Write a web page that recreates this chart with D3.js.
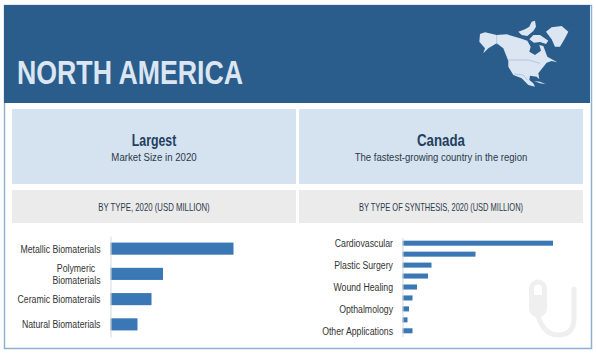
<!DOCTYPE html>
<html>
<head>
<meta charset="utf-8">
<script src="https://cdn.jsdelivr.net/npm/d3@7"></script>
<style>
  html, body { margin: 0; padding: 0; background: #fff; }
  text { font-family: "Liberation Sans", sans-serif; }
</style>
</head>
<body>
<div id="chart"></div>
<script>
// Data
const typeCategories = ["Metallic Biomaterials", "Polymeric|Biomaterials", "Ceramic Biomaterails", "Natural Biomaterials"];
const typeValues = [123, 52.5, 41, 27];

const synthesisLabels = ["Cardiovascular", "", "Plastic Surgery", "", "Wound Healing", "", "Opthalmology", "", "Other Applications"];
const synthesisValues = [150.5, 73, 29, 25.5, 14.5, 10, 6.5, 5, 10];

const width = 596;
const height = 353;
const darkBlue = "#2a5d8c";
const paleBlue = "#d5e2f0";
const iconBlue = "#dbe6f2";
const barBlue = "#3a77b5";
const labelColor = "#333";
const labelSqueeze = 0.76;

const svg = d3.select("#chart")
    .append("svg")
    .attr("width", width)
    .attr("height", height)
    .style("display", "block");

// No narrow font is installed, so narrow text is squeezed horizontally
function narrowText(txt, x, y, f, size) {
    return svg.append("text")
        .attr("transform", `translate(${x},${y}) scale(${f},1)`)
        .attr("font-size", size)
        .text(txt);
}

// Frame and header
svg.append("rect").attr("x", 4.5).attr("y", 5.5).attr("width", 587).attr("height", 343)
    .attr("fill", "#fff").attr("stroke", "#8fb0d0").attr("stroke-width", 1.5);
svg.append("rect").attr("x", 4).attr("y", 5).attr("width", 586).attr("height", 98).attr("fill", darkBlue);

narrowText("NORTH AMERICA", 17, 84, 0.81, 33).attr("font-weight", 700).attr("fill", iconBlue);

// Panels
const panels = [
    { x: 12, title: "Largest", titleF: 0.77, sub: "Market Size in 2020", subF: 0.84, by: "BY TYPE, 2020 (USD MILLION)", byF: 0.78 },
    { x: 299, title: "Canada", titleF: 0.83, sub: "The fastest-growing country in the region", subF: 0.83, by: "BY TYPE OF SYNTHESIS, 2020 (USD MILLION)", byF: 0.75 }
];
const panelW = 284;
panels.forEach(p => {
    const cx = p.x + panelW / 2;
    svg.append("rect").attr("x", p.x).attr("y", 109).attr("width", panelW).attr("height", 75).attr("fill", paleBlue);
    svg.append("rect").attr("x", p.x).attr("y", 190).attr("width", panelW).attr("height", 33).attr("fill", "#ebebeb");
    narrowText(p.title, cx, 146, p.titleF, 16).attr("text-anchor", "middle").attr("font-weight", 700).attr("fill", "#22405f");
    narrowText(p.sub, cx, 161, p.subF, 11.5).attr("text-anchor", "middle").attr("fill", "#2b3a4a");
    narrowText(p.by, cx, 211, p.byF, 10).attr("text-anchor", "middle").attr("fill", "#2b3a4a");
});

// Map icon (region silhouette, not data)
const map = svg.append("g").attr("transform", "translate(440,0) scale(0.3333)").attr("fill", iconBlue);
const mapShapes = [
    // mainland
    "M120,102 L135,97 L170,105 L200,103 L240,115 L262,122 L272,140 L268,155 L285,165 L303,152 L298,135 L310,138 L322,170 L352,187 L335,183 L320,188 L305,207 L295,220 L298,238 L290,230 L270,227 L268,240 L280,250 L285,260 L265,255 L245,235 L220,225 L205,200 L205,183 L190,145 L170,130 L145,145 L130,160 L135,145 L118,125 Z",
    // Greenland
    "M318,95 L335,82 L365,78 L385,95 L375,115 L360,140 L345,140 L335,118 Z",
    // Baffin side
    "M268,118 L280,105 L300,105 L325,122 L318,132 L300,126 L282,128 Z",
    // Arctic islands
    "M235,95 L255,88 L268,80 L275,65 L285,62 L288,80 L280,93 L262,108 L245,105 Z",
    // Cuba
    "M282,243 L300,245 L318,253 L300,250 Z"
];
map.selectAll("path").data(mapShapes).enter().append("path").attr("d", d => d);
map.append("path").attr("d", "M170,105 L170,133 M205,180 L265,180 L300,190 M222,222 L250,225 L262,240")
    .attr("fill", "none").attr("stroke", "#9fb8d2").attr("stroke-width", 2);

// Faint stethoscope icon behind right chart
const steth = svg.append("g").attr("fill", "none").attr("stroke", "#efefef").attr("stroke-width", 5).attr("stroke-linecap", "round");
steth.append("path").attr("d", "M574,289 L574,318 Q574,335 558,335 Q544,335 538,316");
steth.append("rect").attr("x", 531.5).attr("y", 282).attr("width", 13).attr("height", 33).attr("rx", 6.5);
steth.append("rect").attr("x", 533).attr("y", 295).attr("width", 10).attr("height", 18).attr("fill", "#efefef").attr("stroke", "none");

// Left chart
const x1 = d3.scaleLinear().domain([0, 123]).range([0, 123]);
const y1 = d3.scaleBand().domain(typeCategories).range([236, 337]).paddingInner(0.52).paddingOuter(0.26);

const left = svg.append("g").attr("transform", "translate(110.5,0)");
left.selectAll("rect").data(typeCategories).enter().append("rect")
    .attr("x", 0)
    .attr("y", d => y1(d))
    .attr("width", (d, i) => x1(typeValues[i]))
    .attr("height", y1.bandwidth())
    .attr("fill", barBlue);

const leftAxis = left.append("g").call(d3.axisLeft(y1).tickSize(0).tickPadding(10));
leftAxis.select(".domain").attr("stroke", "#d9d9d9");
leftAxis.attr("font-family", null);
leftAxis.selectAll("text").each(function (d) {
    const parts = d.split("|");
    const t = d3.select(this).text(null)
        .attr("x", 0).attr("dy", null)
        .attr("transform", `translate(-10,0) scale(${labelSqueeze},1)`)
        .attr("font-size", 11.5).attr("fill", labelColor);
    parts.forEach((part, i) => {
        t.append("tspan")
            .attr("x", i === 0 && parts.length > 1 ? -7 : 0)
            .attr("dy", parts.length === 1 ? 4 : (i === 0 ? -1.5 : 12))
            .text(part);
    });
});

// Right chart
const x2 = d3.scaleLinear().domain([0, 150.5]).range([0, 150.5]);
const y2 = d3.scaleBand().domain(d3.range(synthesisValues.length)).range([237.5, 336.5]).paddingInner(0.54).paddingOuter(0.29);

const right = svg.append("g").attr("transform", "translate(402.5,0)");
right.selectAll("rect").data(synthesisValues).enter().append("rect")
    .attr("x", 0)
    .attr("y", (d, i) => y2(i))
    .attr("width", d => x2(d))
    .attr("height", y2.bandwidth())
    .attr("fill", barBlue);

const rightAxis = right.append("g").call(d3.axisLeft(y2).tickSize(0).tickPadding(10).tickFormat(i => synthesisLabels[i]));
rightAxis.select(".domain").attr("stroke", "#d9d9d9");
rightAxis.attr("font-family", null);
rightAxis.selectAll("text")
    .attr("x", 0).attr("dy", 4)
    .attr("transform", `translate(-9.5,0) scale(${labelSqueeze},1)`)
    .attr("font-size", 11.5).attr("fill", labelColor);
</script>
</body>
</html>
